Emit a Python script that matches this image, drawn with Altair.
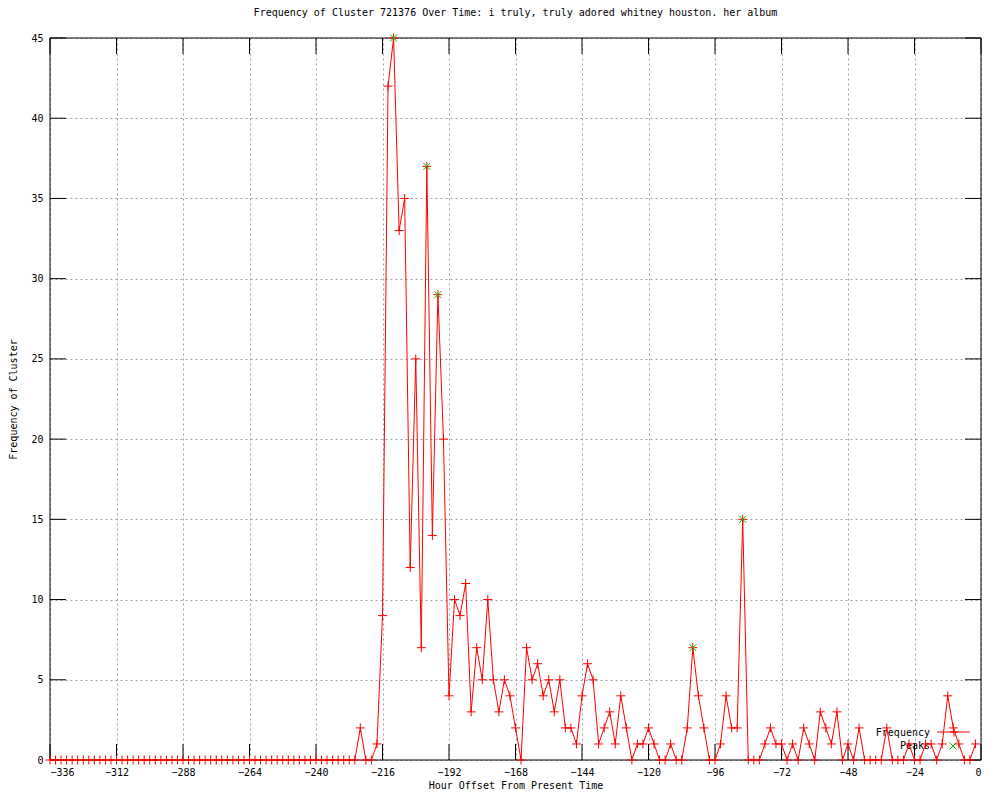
import altair as alt
import pandas as pd

# ---- data ----
hours = list(range(-336, 0, 2))
freq = [
    0, 0, 0, 0, 0, 0, 0, 0, 0, 0, 0, 0, 0, 0, 0, 0, 0, 0, 0, 0,
    0, 0, 0, 0, 0, 0, 0, 0, 0, 0, 0, 0, 0, 0, 0, 0, 0, 0, 0, 0,
    0, 0, 0, 0, 0, 0, 0, 0, 0, 0, 0, 0, 0, 0, 0, 0,
    2, 0, 0, 1, 9,
    42, 45, 33, 35, 12, 25, 7, 37, 14, 29,
    20, 4, 10, 9, 11, 3, 7, 5, 10, 5,
    3, 5, 4, 2, 0, 7, 5, 6, 4, 5,
    3, 5, 2, 2, 1, 4, 6, 5, 1, 2,
    3, 1, 4, 2, 0, 1, 1, 2, 1, 0,
    0, 1, 0, 0, 2, 7, 4, 2, 0, 0,
    1, 4, 2, 2, 15, 0, 0, 0, 1, 2,
    1, 1, 0, 1, 0, 2, 1, 0, 3, 2,
    1, 3, 0, 1, 0, 2, 0, 0, 0, 0,
    2, 0, 0, 0, 1, 0, 0, 1, 1, 0,
    1, 4, 2, 1, 0, 0, 1,
]
peak_hours = [-212, -200, -196, -104, -86]
peak_values = [45, 37, 29, 7, 15]
x_ticks = [-336, -312, -288, -264, -240, -216, -192, -168, -144, -120, -96, -72, -48, -24, 0]
y_ticks = [0, 5, 10, 15, 20, 25, 30, 35, 40, 45]

TITLE = "Frequency of Cluster 721376 Over Time: i truly, truly adored whitney houston. her album"
FONT = "DejaVu Sans Mono"
W, H = 931, 722
RED = "#ff0000"
GREEN = "#00c000"
PLUS = "M-1,0H1M0,-1V1"
CROSS = "M-1,-1L1,1M-1,1L1,-1"

df = pd.DataFrame({"hour": hours, "freq": freq})
peaks = pd.DataFrame({"hour": peak_hours, "freq": peak_values})
xt = pd.DataFrame({"hour": x_ticks})
yt = pd.DataFrame({"freq": y_ticks})
one = pd.DataFrame({"k": [0]})

xs = alt.Scale(domain=[-336, 0], nice=False, zero=False)
ys = alt.Scale(domain=[0, 45], nice=False, zero=False)

common_axis = dict(
    labelFont=FONT, labelFontSize=10, labelColor="black",
    titleFont=FONT, titleFontSize=10, titleFontWeight="normal", titleColor="black",
    ticks=False, domain=False, grid=True, gridColor="#a0a0a0", gridDash=[2, 3], gridWidth=1,
    labelPadding=7, format="d",
)
x_axis = alt.Axis(values=x_ticks, title="Hour Offset From Present Time", titlePadding=3, **common_axis)
y_axis = alt.Axis(values=y_ticks, title="Frequency of Cluster", titlePadding=12, **common_axis)


def X():
    return alt.X("hour:Q", scale=xs, axis=x_axis)


def Y():
    return alt.Y("freq:Q", scale=ys, axis=y_axis)


line = alt.Chart(df).mark_line(color=RED, strokeWidth=1).encode(x=X(), y=Y())
pts = alt.Chart(df).mark_point(shape=PLUS, size=81, filled=False, stroke=RED, strokeWidth=1, opacity=1).encode(
    x=X(), y=Y())
pk = alt.Chart(peaks).mark_point(shape=CROSS, size=49, filled=False, stroke=GREEN, strokeWidth=1, opacity=1).encode(
    x=X(), y=Y())

# inward, mirrored tick marks
TL = 16
tb = alt.Chart(xt).mark_rule(color="black", strokeWidth=1).encode(
    x=X(), y=alt.value(H), y2=alt.value(H - TL))
tt = alt.Chart(xt).mark_rule(color="black", strokeWidth=1).encode(
    x=X(), y=alt.value(0), y2=alt.value(TL))
tl = alt.Chart(yt).mark_rule(color="black", strokeWidth=1).encode(
    y=Y(), x=alt.value(0), x2=alt.value(TL))
tr = alt.Chart(yt).mark_rule(color="black", strokeWidth=1).encode(
    y=Y(), x=alt.value(W), x2=alt.value(W - TL))

# solid border drawn over the grid
b_top = alt.Chart(one).mark_rule(color="black", strokeWidth=1).encode(
    x=alt.value(0), x2=alt.value(W), y=alt.value(0))
b_bot = alt.Chart(one).mark_rule(color="black", strokeWidth=1).encode(
    x=alt.value(0), x2=alt.value(W), y=alt.value(H))
b_left = alt.Chart(one).mark_rule(color="black", strokeWidth=1).encode(
    y=alt.value(0), y2=alt.value(H), x=alt.value(0))
b_right = alt.Chart(one).mark_rule(color="black", strokeWidth=1).encode(
    y=alt.value(0), y2=alt.value(H), x=alt.value(W))

# legend (gnuplot style: label then sample)
lg_t1 = alt.Chart(one).mark_text(text="Frequency", align="right", baseline="middle", font=FONT,
                                 fontSize=10, color="black").encode(x=alt.value(880), y=alt.value(695))
lg_t2 = alt.Chart(one).mark_text(text="Peaks", align="right", baseline="middle", font=FONT,
                                 fontSize=10, color="black").encode(x=alt.value(880), y=alt.value(708))
lg_l = alt.Chart(one).mark_rule(color=RED, strokeWidth=1).encode(
    x=alt.value(887), x2=alt.value(920), y=alt.value(694))
lg_p = alt.Chart(one).mark_point(shape=PLUS, size=81, filled=False, stroke=RED, strokeWidth=1, opacity=1).encode(
    x=alt.value(904), y=alt.value(694))
lg_x = alt.Chart(one).mark_point(shape=CROSS, size=49, filled=False, stroke=GREEN, strokeWidth=1, opacity=1).encode(
    x=alt.value(903), y=alt.value(708))

chart = alt.layer(
    b_top, b_bot, b_left, b_right, tb, tt, tl, tr,
    lg_t1, lg_t2, lg_l, lg_p, lg_x, line, pts, pk
).properties(
    width=W, height=H,
    title=alt.TitleParams(text=TITLE, font=FONT, fontSize=10, fontWeight="normal", color="black",
                          anchor="middle", offset=14),
    autosize=alt.AutoSizeParams(type="none"),
    padding={"left": 42, "top": 30, "right": 10, "bottom": 32},
    background="white",
).configure_view(stroke=None)

chart.save("out.html", embed_options={"renderer": "svg", "actions": False})
